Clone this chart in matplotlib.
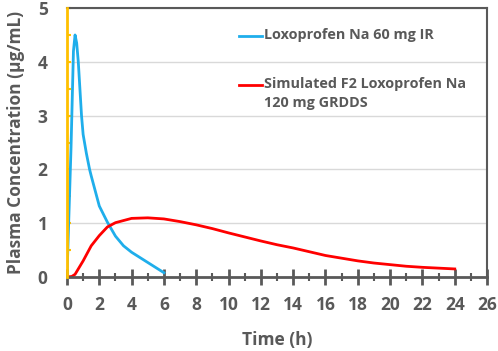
import numpy as np
import matplotlib.pyplot as plt
from matplotlib.ticker import MultipleLocator

plt.rcParams['font.family'] = ['Open Sans', 'DejaVu Sans']

# IR curve
ir_time = [0, 0.25, 0.4, 0.5, 0.6, 0.7, 0.9, 1.0, 1.2, 1.4, 1.5, 2.0, 2.5, 3.0, 3.5, 4.0, 5.0, 6.0]
ir_conc = [0, 2.4, 4.2, 4.5, 4.35, 4.0, 3.0, 2.65, 2.3, 2.0, 1.88, 1.32, 1.02, 0.76, 0.58,
           0.46, 0.27, 0.08]

# simulated GRDDS curve
gr_time = [0, 0.3, 0.5, 1, 1.5, 2, 2.5, 3, 4, 5, 6, 7, 8, 9, 10, 11, 12, 13, 14, 15, 16,
           17, 18, 19, 20, 21, 22, 23, 24]
gr_conc = [0, 0.01, 0.05, 0.3, 0.58, 0.77, 0.93, 1.01, 1.09, 1.1, 1.08, 1.03, 0.97, 0.9,
           0.82, 0.745, 0.67, 0.6, 0.54, 0.47, 0.4, 0.35, 0.3, 0.26, 0.23, 0.2, 0.18,
           0.165, 0.15]

labels = ['Loxoprofen Na 60 mg IR', 'Simulated F2 Loxoprofen Na\n120 mg GRDDS']
colors = ['#1FAEEB', '#FF0000']

grey = '#595959'
orange = '#FFC000'

fig = plt.figure(figsize=(4.98, 3.51), dpi=100)
ax = fig.add_axes([0.1345, 0.2108, 0.8435, 0.7662])

ax.plot(ir_time, ir_conc, color=colors[0], lw=2, solid_joinstyle='round')
ax.plot(gr_time, gr_conc, color=colors[1], lw=2, solid_joinstyle='round')

ax.set_xlim(0, 26)
ax.set_ylim(0, 5)
ax.xaxis.set_major_locator(MultipleLocator(2))
ax.xaxis.set_minor_locator(MultipleLocator(1))
ax.yaxis.set_major_locator(MultipleLocator(1))
ax.yaxis.set_minor_locator(MultipleLocator(0.5))

ax.grid(axis='y', which='major', color='#D9D9D9', lw=1)
ax.set_axisbelow(True)

for s in ['top', 'right', 'bottom']:
    ax.spines[s].set_color(grey)
ax.spines['bottom'].set_linewidth(2)
ax.spines['top'].set_linewidth(1.5)
ax.spines['right'].set_linewidth(1.5)
ax.spines['left'].set_color(orange)
ax.spines['left'].set_linewidth(2)
ax.spines['left'].set_zorder(3)

ax.tick_params(axis='x', which='major', direction='inout', length=12, width=2,
               color=grey, labelcolor=grey, labelsize=12.5, pad=8)
ax.tick_params(axis='x', which='minor', direction='inout', length=6, width=1.5, color=grey)
ax.tick_params(axis='y', which='both', direction='in', length=3, width=1.5,
               color=orange, labelcolor=grey, labelsize=12.5, pad=14)
for t in ax.get_xticklabels() + ax.get_yticklabels():
    t.set_fontweight('bold')

ax.set_xlabel('Time (h)', fontsize=12.5, fontweight='bold', color=grey, labelpad=12)
ax.set_ylabel('Plasma Concentration (\u03bcg/mL)', fontsize=12.5, fontweight='bold',
              color=grey, labelpad=9)

# legend drawn by hand so the red key sits on the first text line
key_y = [0.896, 0.714]
for lab, c, y in zip(labels, colors, key_y):
    ax.plot([0.41, 0.465], [y, y], color=c, lw=2, transform=ax.transAxes, clip_on=False)
    ax.text(0.468, y + 0.031, lab, transform=ax.transAxes, va='top', ha='left',
            fontsize=10.4, fontweight='bold', color=grey, linespacing=1.5)

fig.savefig('out.png', dpi=100)
